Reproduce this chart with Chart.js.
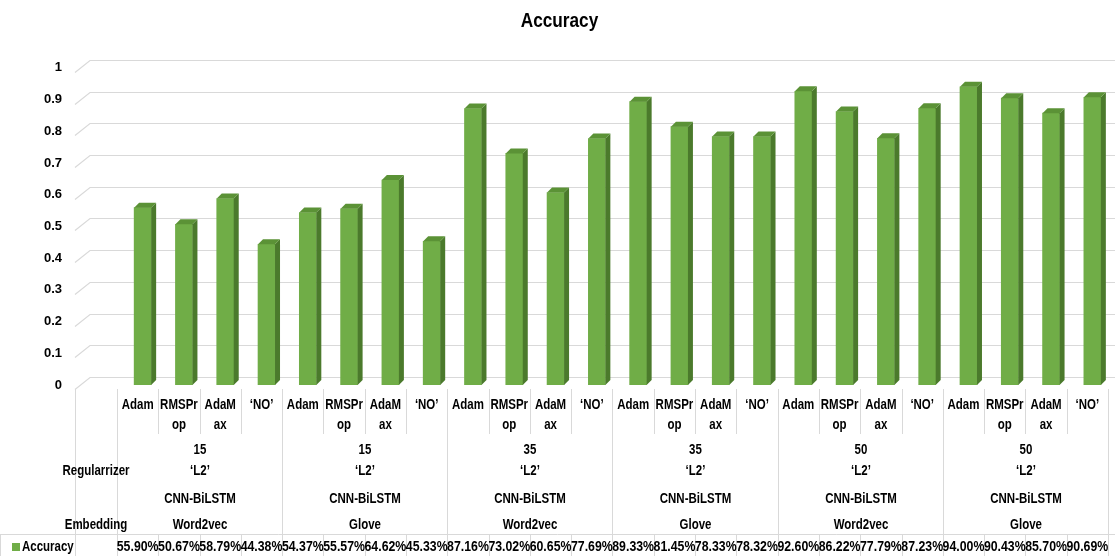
<!DOCTYPE html>
<html>
<head>
<meta charset="utf-8">
<script src="https://cdn.jsdelivr.net/npm/chart.js@4/dist/chart.umd.min.js"></script>
<style>
  body { margin: 0; background: #fff; }
  #wrap { width: 1115px; height: 556px; position: relative; }
</style>
</head>
<body>
<div id="wrap"><canvas id="accuracyChart"></canvas></div>
<script>
// category levels, innermost first
var optimizers = [['Adam'], ['RMSPr', 'op'], ['AdaM', 'ax'], ['‘NO’']];
var epochs = ['15', '15', '35', '35', '50', '50'];
var regularizers = ['‘L2’', '‘L2’', '‘L2’', '‘L2’', '‘L2’', '‘L2’'];
var models = ['CNN-BiLSTM', 'CNN-BiLSTM', 'CNN-BiLSTM', 'CNN-BiLSTM', 'CNN-BiLSTM', 'CNN-BiLSTM'];
var embeddings = ['Word2vec', 'Glove', 'Word2vec', 'Glove', 'Word2vec', 'Glove'];

var accuracy = [
  0.5590, 0.5067, 0.5879, 0.4438,
  0.5437, 0.5557, 0.6462, 0.4533,
  0.8716, 0.7302, 0.6065, 0.7769,
  0.8933, 0.8145, 0.7833, 0.7832,
  0.9260, 0.8622, 0.7779, 0.8723,
  0.9400, 0.9043, 0.8570, 0.9069
];

var labels = [];
epochs.forEach(function (e, g) {
  optimizers.forEach(function (o) { labels.push(o.join('') + ' ' + e + ' ' + embeddings[g]); });
});

var FONT = "'Liberation Sans', Arial, sans-serif";
var GREEN = '#70AD47';
var LINE = '#d9d9d9';

// condensed bold text: squeeze a normal face horizontally
function narrowText(ctx, text, x, y, size, align, squeeze) {
  ctx.save();
  ctx.translate(x, y);
  ctx.scale(squeeze || 0.82, 1);
  ctx.font = 'bold ' + size + 'px ' + FONT;
  ctx.textAlign = align || 'center';
  ctx.textBaseline = 'middle';
  ctx.fillText(text, 0, 0);
  ctx.restore();
}

// back wall gridlines with the slanted side wall
var wallGrid = {
  id: 'wallGrid',
  beforeDatasetsDraw: function (chart) {
    var ctx = chart.ctx, ys = chart.scales.y;
    ctx.save();
    ctx.strokeStyle = LINE;
    ctx.lineWidth = 1.2;
    ys.ticks.forEach(function (t) {
      var yb = Math.round(ys.getPixelForValue(t.value)) - 8 + 0.5;
      ctx.beginPath();
      ctx.moveTo(75, yb + 12);
      ctx.lineTo(90, yb);
      ctx.lineTo(chart.width, yb);
      ctx.stroke();
    });
    ctx.restore();
  }
};

// side and top faces for the columns
var columns3d = {
  id: 'columns3d',
  afterDatasetsDraw: function (chart) {
    var ctx = chart.ctx;
    var dx = 5, dy = 5;
    chart.getDatasetMeta(0).data.forEach(function (bar) {
      var p = bar.getProps(['x', 'y', 'base', 'width'], true);
      var l = p.x - p.width / 2, r = p.x + p.width / 2;
      ctx.save();
      ctx.fillStyle = '#4B7A2C';
      ctx.beginPath();
      ctx.moveTo(r, p.base);
      ctx.lineTo(r, p.y);
      ctx.lineTo(r + dx, p.y - dy);
      ctx.lineTo(r + dx, p.base - dy);
      ctx.closePath();
      ctx.fill();
      ctx.fillStyle = '#5B9236';
      ctx.beginPath();
      ctx.moveTo(l, p.y);
      ctx.lineTo(l + dx, p.y - dy);
      ctx.lineTo(r + dx, p.y - dy);
      ctx.lineTo(r, p.y);
      ctx.closePath();
      ctx.fill();
      ctx.restore();
    });
  }
};

// title, multi-level category labels and the data table row
var labelTable = {
  id: 'labelTable',
  afterDraw: function (chart) {
    var ctx = chart.ctx, xs = chart.scales.x;
    var step = xs.getPixelForValue(1) - xs.getPixelForValue(0);
    function edge(i) { return Math.round(xs.getPixelForValue(0) - step / 2 - 5 + i * step) + 0.5; }
    function mid(i) { return xs.getPixelForValue(i) - 5; }
    var top = 389, row1 = 434, rowData = 534;

    ctx.save();
    ctx.strokeStyle = LINE;
    ctx.lineWidth = 1;
    ctx.beginPath();
    for (var i = 0; i <= accuracy.length; i++) {
      var x = edge(i);
      ctx.moveTo(x, top);
      ctx.lineTo(x, i % 4 === 0 ? rowData : row1);
      ctx.moveTo(x, rowData);
      ctx.lineTo(x, chart.height);
    }
    ctx.moveTo(75.5, top);
    ctx.lineTo(75.5, chart.height);
    ctx.moveTo(0.5, rowData);
    ctx.lineTo(0.5, chart.height);
    ctx.moveTo(0, rowData + 0.5);
    ctx.lineTo(chart.width, rowData + 0.5);
    ctx.stroke();

    ctx.fillStyle = '#000';
    narrowText(ctx, 'Accuracy', chart.width / 2 + 2, 21, 21);

    accuracy.forEach(function (v, i) {
      var o = optimizers[i % 4];
      o.forEach(function (line, k) { narrowText(ctx, line, mid(i), 405 + k * 20, 14); });
      narrowText(ctx, (v * 100).toFixed(2) + '%', mid(i), 547, 14, 'center', 0.88);
    });

    epochs.forEach(function (e, g) {
      var cx = (edge(g * 4) + edge(g * 4 + 4)) / 2;
      narrowText(ctx, e, cx, 450, 14);
      narrowText(ctx, regularizers[g], cx, 471, 14);
      narrowText(ctx, models[g], cx, 499, 14);
      narrowText(ctx, embeddings[g], cx, 525, 14);
    });

    narrowText(ctx, 'Regularrizer', 96, 471, 14);
    narrowText(ctx, 'Embedding', 96, 525, 14);

    // series key
    ctx.fillStyle = GREEN;
    ctx.fillRect(12, 543, 8, 8);
    ctx.fillStyle = '#000';
    narrowText(ctx, 'Accuracy', 22, 547, 14, 'left');
    ctx.restore();
  }
};

var ctx = document.getElementById('accuracyChart').getContext('2d');
var myChart = new Chart(ctx, {
  type: 'bar',
  data: {
    labels: labels,
    datasets: [{
      label: 'Accuracy',
      data: accuracy,
      backgroundColor: GREEN,
      barThickness: 17,
      borderWidth: 0
    }]
  },
  options: {
    responsive: true,
    maintainAspectRatio: false,
    animation: false,
    layout: { padding: { left: 0, right: 2, top: 63, bottom: 171 } },
    plugins: {
      legend: { display: false },
      tooltip: { enabled: false },
      title: { display: false }
    },
    scales: {
      x: { display: false },
      y: {
        min: 0,
        max: 1,
        afterFit: function (scale) { scale.width = 122; },
        grid: { display: false, drawTicks: false },
        border: { display: false },
        ticks: {
          stepSize: 0.1,
          padding: 60,
          color: '#000',
          font: { family: FONT, size: 13, weight: 'bold' },
          callback: function (v) { return +v.toFixed(1); }
        }
      }
    }
  },
  plugins: [wallGrid, columns3d, labelTable]
});
</script>
</body>
</html>
